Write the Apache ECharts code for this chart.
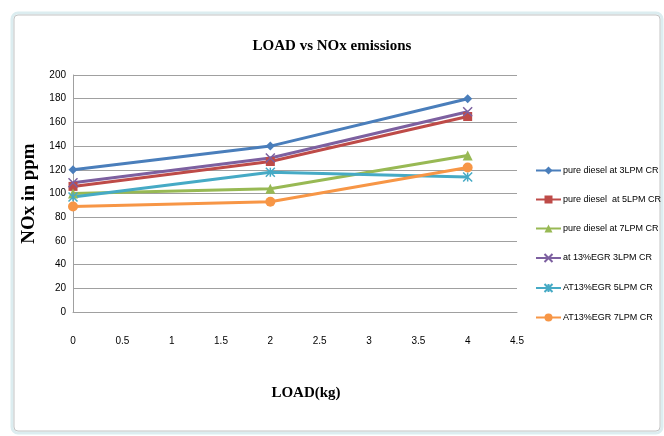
<!DOCTYPE html>
<html>
<head>
<meta charset="utf-8">
<script src="https://cdn.jsdelivr.net/npm/echarts@6/dist/echarts.min.js"></script>
<style>
  html, body { margin: 0; padding: 0; background: #fff; }
  #chart { width: 664px; height: 436px; }
</style>
</head>
<body>
<div id="chart"></div>
<script>
const loads = [0, 2, 4]
const seriesNames = [
  'pure diesel at 3LPM CR',
  'pure diesel  at 5LPM CR',
  'pure diesel at 7LPM CR',
  'at 13%EGR 3LPM CR',
  'AT13%EGR 5LPM CR',
  'AT13%EGR 7LPM CR'
]
const pureDiesel3 = [120, 140, 180]
const pureDiesel5 = [106, 127, 165]
const pureDiesel7 = [100, 104, 132]
const egr3 = [109, 130, 169]
const egr5 = [97, 118, 114]
const egr7 = [89, 93, 122]

const colors = ['#4a7ebb', '#be4b48', '#98b954', '#7d60a0', '#46aac5', '#f79646']
const symbols = [
  'diamond',
  'rect',
  'triangle',
  'path://M0,0L10,10M10,0L0,10',
  'path://M0,0L10,10M10,0L0,10M5,0L5,10',
  'circle'
]
const symbolSizes = [9, 9, 10, 9, 9, 10]
const values = [pureDiesel3, pureDiesel5, pureDiesel7, egr3, egr5, egr7]

const sans = "'Liberation Sans Narrow', 'Liberation Sans', sans-serif"
const serif = "'Liberation Serif', 'DejaVu Serif', serif"

const chart = echarts.init(document.getElementById('chart'), null, { renderer: 'canvas' })

const series = values.map((vals, i) => {
  const stroked = symbols[i].startsWith('path://')
  return {
    name: seriesNames[i],
    type: 'line',
    data: vals.map((v, j) => [loads[j], v]),
    symbol: symbols[i],
    symbolSize: symbolSizes[i],
    showAllSymbol: true,
    lineStyle: { color: colors[i], width: 3 },
    itemStyle: stroked
      ? { color: colors[i], borderColor: colors[i], borderWidth: 1.5 }
      : { color: colors[i] },
    emphasis: { disabled: true },
    animation: false
  }
})

chart.setOption({
  backgroundColor: '#fff',
  animation: false,
  color: colors,
  graphic: [
    {
      type: 'rect',
      shape: { x: 12, y: 13, width: 650, height: 420, r: 6 },
      style: { fill: 'none', stroke: '#dcedf0', lineWidth: 3 },
      z: -1
    },
    {
      type: 'rect',
      shape: { x: 14, y: 15, width: 646, height: 416, r: 4 },
      style: { fill: '#fff', stroke: '#c4c4c4', lineWidth: 1 },
      z: -1
    }
  ],
  title: {
    text: 'LOAD vs NOx emissions',
    left: 'center',
    top: 34,
    padding: [5, 0, 5, 12],
    textStyle: { fontFamily: serif, fontWeight: 'bold', fontSize: 15, color: '#000' }
  },
  legend: {
    orient: 'vertical',
    left: 530,
    top: 161,
    itemGap: 20,
    itemWidth: 25,
    itemHeight: 10,
    textStyle: { fontFamily: sans, fontSize: 9, color: '#000', padding: [0, 0, 0, -3] },
    data: seriesNames
  },
  grid: { left: 73, top: 75, width: 444, height: 237, containLabel: false },
  xAxis: {
    type: 'value',
    min: 0,
    max: 4.5,
    interval: 0.5,
    name: 'LOAD(kg)',
    nameLocation: 'middle',
    nameGap: 74,
    nameTextStyle: { fontFamily: serif, fontWeight: 'bold', fontSize: 15, color: '#000', padding: [0, 0, 0, 22] },
    axisLine: { lineStyle: { color: '#a0a0a0', width: 1 } },
    axisTick: { show: false },
    splitLine: { show: false },
    axisLabel: { fontFamily: sans, fontSize: 10, color: '#000', margin: 24 }
  },
  yAxis: {
    type: 'value',
    min: 0,
    max: 200,
    interval: 20,
    name: 'NOx in ppm',
    nameLocation: 'middle',
    nameGap: 33,
    nameTextStyle: { fontFamily: serif, fontWeight: 'bold', fontSize: 19, color: '#000' },
    axisLine: { show: true, lineStyle: { color: '#a0a0a0', width: 1 } },
    axisTick: { show: false },
    splitLine: { lineStyle: { color: '#a0a0a0', width: 1 } },
    axisLabel: { fontFamily: sans, fontSize: 10, color: '#000', margin: 7 }
  },
  series: series
})
</script>
</body>
</html>
